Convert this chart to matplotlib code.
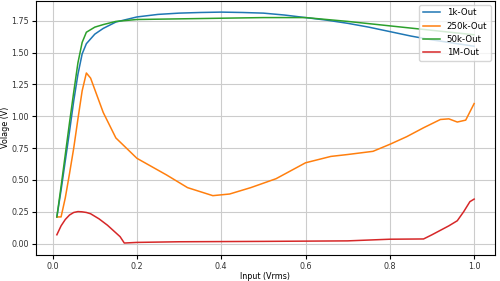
import matplotlib
matplotlib.use("Agg")
import matplotlib.pyplot as plt

# -----------------------------
# MEASURED OUTPUTS (read off the plot)
# -----------------------------
x_1k = [0.01, 0.02, 0.03, 0.04, 0.05, 0.06, 0.07, 0.08, 0.10, 0.12, 0.15, 0.20,
        0.25, 0.30, 0.35, 0.40, 0.45, 0.50, 0.55, 0.60, 0.65, 0.70, 0.75, 0.80,
        0.85, 0.90, 0.95, 1.00]
y_1k = [0.21, 0.42, 0.65, 0.88, 1.12, 1.33, 1.49, 1.57, 1.645, 1.69, 1.74, 1.78,
        1.80, 1.81, 1.815, 1.818, 1.815, 1.81, 1.795, 1.775, 1.755, 1.73, 1.70, 1.665,
        1.63, 1.60, 1.575, 1.55]

x_250k = [0.01, 0.02, 0.03, 0.04, 0.05, 0.06, 0.07, 0.08, 0.09, 0.10, 0.12, 0.15,
          0.20, 0.27, 0.32, 0.38, 0.42, 0.47, 0.53, 0.60, 0.66, 0.70, 0.76, 0.80,
          0.84, 0.88, 0.92, 0.94, 0.96, 0.98, 1.00]
y_250k = [0.21, 0.21, 0.36, 0.55, 0.75, 0.98, 1.20, 1.34, 1.30, 1.21, 1.03, 0.83,
          0.67, 0.54, 0.44, 0.377, 0.39, 0.44, 0.51, 0.635, 0.685, 0.70, 0.725, 0.78,
          0.84, 0.91, 0.975, 0.98, 0.955, 0.97, 1.10]

x_50k = [0.01, 0.02, 0.03, 0.04, 0.05, 0.06, 0.07, 0.08, 0.10, 0.12, 0.15, 0.20,
         0.30, 0.40, 0.50, 0.60, 0.70, 0.80, 0.90, 1.00]
y_50k = [0.21, 0.45, 0.70, 0.95, 1.19, 1.42, 1.58, 1.66, 1.70, 1.72, 1.745, 1.76,
         1.765, 1.77, 1.775, 1.775, 1.745, 1.71, 1.675, 1.64]

x_1m = [0.01, 0.02, 0.03, 0.04, 0.05, 0.06, 0.07, 0.08, 0.09, 0.10, 0.11, 0.12,
        0.13, 0.14, 0.15, 0.16, 0.17, 0.20, 0.30, 0.50, 0.70, 0.80, 0.88, 0.90,
        0.92, 0.94, 0.96, 0.975, 0.99, 1.00]
y_1m = [0.07, 0.14, 0.19, 0.225, 0.245, 0.252, 0.25, 0.245, 0.235, 0.215, 0.195, 0.17,
        0.145, 0.115, 0.085, 0.055, 0.005, 0.01, 0.015, 0.018, 0.022, 0.035, 0.037, 0.07,
        0.105, 0.14, 0.18, 0.25, 0.33, 0.35]

plt.rcParams["font.size"] = 5.8

fig = plt.figure(figsize=(5, 2.81), dpi=100)
ax = fig.add_axes([0.072, 0.094, 0.918, 0.904])

ax.plot(x_1k, y_1k, label="1k-Out", linewidth=1.1)
ax.plot(x_250k, y_250k, label="250k-Out", linewidth=1.1)
ax.plot(x_50k, y_50k, label="50k-Out", linewidth=1.1)
ax.plot(x_1m, y_1m, label="1M-Out", linewidth=1.1)

ax.set_xlabel("Input (Vrms)", labelpad=1)
ax.set_ylabel("Volage (V)", labelpad=1)
ax.set_yticks([0.0, 0.25, 0.5, 0.75, 1.0, 1.25, 1.5, 1.75])
ax.tick_params(length=3, pad=2, labelcolor="#333333")
ax.legend(loc="upper right", fontsize=6.2)
ax.grid(True, color="#cccccc")

fig.savefig("out.png", dpi=100)
